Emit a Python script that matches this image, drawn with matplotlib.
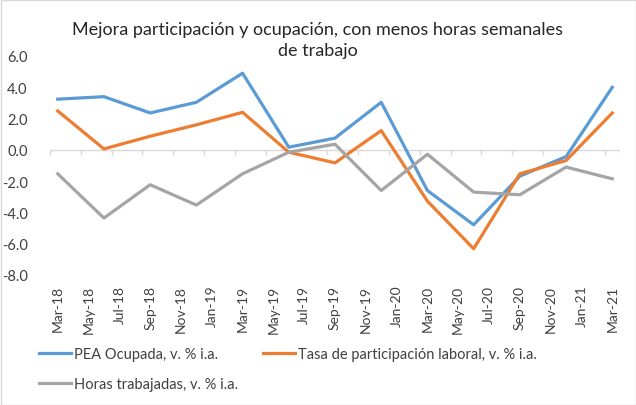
import matplotlib
matplotlib.use("Agg")
import matplotlib.pyplot as plt
import numpy as np
import pandas as pd
from matplotlib.patches import Rectangle

plt.rcParams['font.family'] = ['Lato', 'DejaVu Sans']

# Quarterly observations
dates = ["2018-03", "2018-06", "2018-09", "2018-12", "2019-03", "2019-06", "2019-09",
         "2019-12", "2020-03", "2020-06", "2020-09", "2020-12", "2021-03"]
pea_ocupada = [3.24, 3.40, 2.36, 3.04, 4.90, 0.17, 0.75, 3.04, -2.60, -4.79, -1.68, -0.43, 4.00]
tasa_part = [2.49, 0.06, 0.87, 1.60, 2.40, -0.15, -0.83, 1.23, -3.28, -6.32, -1.53, -0.68, 2.36]
horas = [-1.53, -4.36, -2.23, -3.53, -1.53, -0.15, 0.36, -2.60, -0.28, -2.70, -2.87, -1.10, -1.85]

# Axis labels (every two months)
tick_labels = ["Mar-18", "May-18", "Jul-18", "Sep-18", "Nov-18", "Jan-19", "Mar-19", "May-19",
               "Jul-19", "Sep-19", "Nov-19", "Jan-20", "Mar-20", "May-20", "Jul-20", "Sep-20",
               "Nov-20", "Jan-21", "Mar-21"]
y_ticks = [6, 4, 2, 0, -2, -4, -6, -8]

series_names = ["PEA Ocupada, v. % i.a.", "Tasa de participación laboral, v. % i.a.",
                "Horas trabajadas, v. % i.a."]
colors = ["#5B9BD5", "#ED7D31", "#A5A5A5"]

start = pd.Period("2018-03", freq="M")
x = np.array([(pd.Period(d, freq="M") - start).n for d in dates])
label_x = np.array([(pd.Period(pd.to_datetime(l, format="%b-%y"), freq="M") - start).n for l in tick_labels])

fig = plt.figure(figsize=(6.36, 4.06), dpi=100)
ax = fig.add_axes([50/636, 1-276/406, 570/636, 219/406])

lines = []
for vals, c, n in zip([pea_ocupada, tasa_part, horas], colors, series_names):
    l, = ax.plot(x, vals, color=c, lw=2.3, solid_joinstyle='round', label=n, zorder=3)
    lines.append(l)

ax.set_xlim(label_x[0] - 0.5, label_x[-1] + 0.5)
ax.set_ylim(-8, 6)
ax.axhline(0, color="#D9D9D9", lw=1, zorder=1)
# tick marks along the zero line at category boundaries
tick_pos = np.append(label_x - 0.5, label_x[-1] + 0.5)
ax.vlines(tick_pos, -0.35, 0, color="#D9D9D9", lw=1, zorder=1)

for s in ax.spines.values():
    s.set_visible(False)

ax.set_yticks(y_ticks)
ax.set_yticklabels([f"{v:.1f}" for v in y_ticks], fontsize=10.5, color="#404040")
ax.tick_params(axis='y', length=0, pad=16)
ax.set_xticks(label_x)
ax.set_xticklabels(tick_labels, rotation=90, fontsize=10, color="#404040")
ax.tick_params(axis='x', length=0, pad=7)

fig.text(0.5, 1-22/406, "Mejora participación y ocupación, con menos horas semanales\nde trabajo",
         ha='center', va='top', fontsize=13, color="#262626", linespacing=1.35)

# legend filled row-wise: blue, orange / gray
handles = [lines[0], lines[2], lines[1]]
leg = fig.legend(handles=handles, labels=[h.get_label() for h in handles],
                 loc='upper left', bbox_to_anchor=(32/636, 1-341/406), ncol=2,
                 frameon=False, fontsize=10.5, handlelength=2.2, handletextpad=0.2,
                 columnspacing=1.7, labelspacing=1.05, borderpad=0)
for t in leg.get_texts():
    t.set_color("#404040")

fig.patches.append(Rectangle((0.5/636, 0.5/406), 1-1/636, 1-1/406, transform=fig.transFigure,
                             fill=False, edgecolor="#D9D9D9", lw=1))

fig.savefig("out.png", dpi=100, facecolor="white")
